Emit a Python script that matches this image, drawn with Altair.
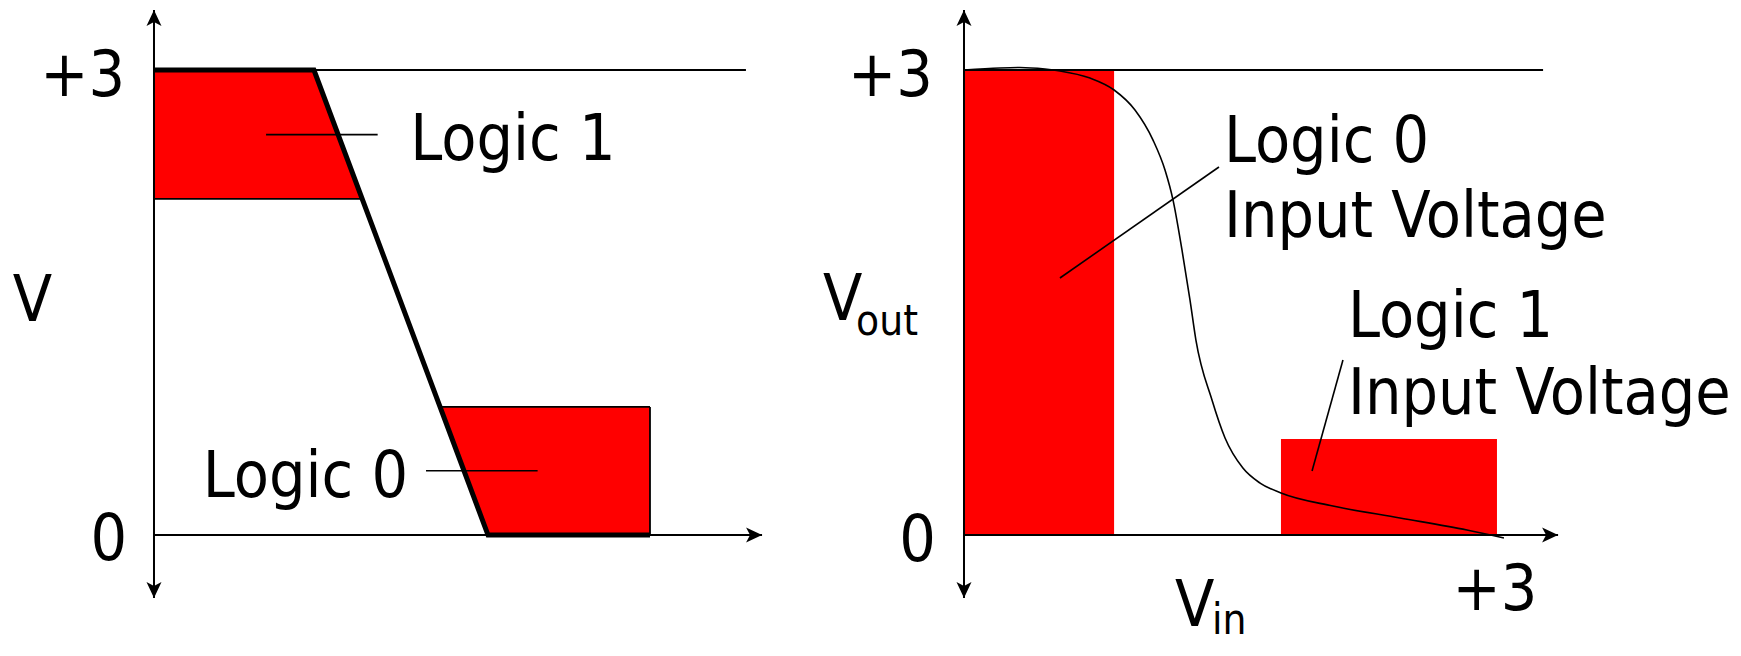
import altair as alt
import pandas as pd

FONT = "DejaVu Sans Condensed, Lato, DejaVu Sans"
RED = "#ff0000"

# ---------------- Left panel: voltage (V) versus time ----------------
WAVE_T = [0.0, 1.032, 2.155, 3.20]
WAVE_V = [3.0, 3.0, 0.0, 0.0]

HI_T = [0.0, 1.032, 1.344]
HI_TOP = [3.0, 3.0, 2.168]
HI_BOT = [2.168, 2.168, 2.168]

LO_T = [1.846, 2.155, 3.20]
LO_TOP = [0.826, 0.826, 0.826]
LO_BOT = [0.826, 0.0, 0.0]

# ---------------- Right panel: Vout versus Vin ----------------
VIN = [0.0, 0.201, 0.313, 0.453, 0.537, 0.705, 0.840, 0.957, 1.058, 1.125,
       1.170, 1.220, 1.265, 1.298, 1.388, 1.461, 1.561, 1.657, 1.774, 2.065,
       2.440, 2.815, 3.022]
VOUT = [3.000, 3.013, 3.016, 3.006, 2.994, 2.948, 2.871, 2.742, 2.548, 2.355,
        2.161, 1.839, 1.516, 1.258, 0.871, 0.626, 0.432, 0.335, 0.271, 0.187,
        0.110, 0.032, -0.019]

BAND_X = [0.0, 1.774]
BAND_X2 = [0.840, 2.983]
BAND_Y = [0.0, 0.0]
BAND_Y2 = [3.0, 0.619]

ARROW = "M0,0L0.75,1.6L0,1.2L-0.75,1.6Z"

H = 636
YDOM = [-0.7032, 3.4]


def seg_df(rows):
    return pd.DataFrame(rows, columns=["x", "y", "x2", "y2"])


def rules(rows, xs, ys, width):
    return alt.Chart(seg_df(rows)).mark_rule(color="black", strokeWidth=width).encode(
        x=alt.X("x:Q", scale=xs, axis=None), y=alt.Y("y:Q", scale=ys, axis=None),
        x2="x2:Q", y2="y2:Q")


def arrows(rows, xs, ys):
    df = pd.DataFrame(rows, columns=["x", "y", "ang"])
    return alt.Chart(df).mark_point(shape=ARROW, filled=True, size=400, color="black",
                                    opacity=1).encode(
        x=alt.X("x:Q", scale=xs, axis=None), y=alt.Y("y:Q", scale=ys, axis=None),
        angle=alt.Angle("ang:Q", scale=None))


def texts(rows, xs, ys, align, size):
    df = pd.DataFrame(rows, columns=["x", "y", "label"])
    return alt.Chart(df).mark_text(align=align, baseline="alphabetic", fontSize=size,
                                   font=FONT, color="black").encode(
        x=alt.X("x:Q", scale=xs, axis=None), y=alt.Y("y:Q", scale=ys, axis=None),
        text="label:N")


# ----- left panel -----
xsL = alt.Scale(domain=[-0.9419, 4.2194], nice=False, zero=False)
ysL = alt.Scale(domain=YDOM, nice=False, zero=False)

hi = alt.Chart(pd.DataFrame({"t": HI_T, "top": HI_TOP, "bot": HI_BOT})).mark_area(
    color=RED, opacity=1).encode(
    x=alt.X("t:Q", scale=xsL, axis=None), y=alt.Y("top:Q", scale=ysL, axis=None), y2="bot:Q")
lo = alt.Chart(pd.DataFrame({"t": LO_T, "top": LO_TOP, "bot": LO_BOT})).mark_area(
    color=RED, opacity=1).encode(
    x=alt.X("t:Q", scale=xsL, axis=None), y=alt.Y("top:Q", scale=ysL, axis=None), y2="bot:Q")
wave = alt.Chart(pd.DataFrame({"t": WAVE_T, "v": WAVE_V})).mark_line(
    color="black", strokeWidth=5, strokeJoin="miter").encode(
    x=alt.X("t:Q", scale=xsL, axis=None), y=alt.Y("v:Q", scale=ysL, axis=None), order="t:Q")

left = alt.layer(
    hi, lo,
    rules([(0, -0.406, 0, 3.387), (0, 0, 3.923, 0)], xsL, ysL, 2),
    rules([(0, 3, 3.819, 3), (0, 2.168, 1.344, 2.168), (1.846, 0.826, 3.2, 0.826),
           (3.2, 0, 3.2, 0.826)], xsL, ysL, 1.8),
    rules([(0.723, 2.583, 1.443, 2.583), (1.755, 0.415, 2.475, 0.415)], xsL, ysL, 1.6),
    wave,
    arrows([(0, 3.387, 0), (0, -0.406, 180), (3.923, 0, 90)], xsL, ysL),
    texts([(-0.187, 2.832, "+3"), (-0.174, -0.161, "0")], xsL, ysL, "right", 64),
    texts([(-0.784, 1.381, "V"), (2.316, 2.419, "Logic 1"), (0.977, 0.245, "Logic 0")],
          xsL, ysL, "center", 64),
).properties(width=800, height=H)

# ----- right panel -----
xsR = alt.Scale(domain=[-0.8731, 4.2872], nice=False, zero=False)
ysR = alt.Scale(domain=YDOM, nice=False, zero=False)

bands = alt.Chart(pd.DataFrame({"x": BAND_X, "x2": BAND_X2, "y": BAND_Y, "y2": BAND_Y2})).mark_rect(
    color=RED, opacity=1).encode(
    x=alt.X("x:Q", scale=xsR, axis=None), x2="x2:Q",
    y=alt.Y("y:Q", scale=ysR, axis=None), y2="y2:Q")
curve = alt.Chart(pd.DataFrame({"vin": VIN, "vout": VOUT})).mark_line(
    color="black", strokeWidth=1.6, interpolate="monotone").encode(
    x=alt.X("vin:Q", scale=xsR, axis=None), y=alt.Y("vout:Q", scale=ysR, axis=None))

right = alt.layer(
    bands,
    rules([(0, -0.406, 0, 3.387), (0, 0, 3.325, 0)], xsR, ysR, 2),
    rules([(0, 3, 3.241, 3)], xsR, ysR, 1.8),
    rules([(0.537, 1.658, 1.427, 2.374), (2.121, 1.129, 1.948, 0.413)], xsR, ysR, 1.6),
    curve,
    arrows([(0, 3.387, 0), (0, -0.406, 180), (3.325, 0, 90)], xsR, ysR),
    texts([(-0.1735, 2.832, "+3"), (-0.157, -0.168, "0")], xsR, ysR, "right", 64),
    texts([(2.972, -0.484, "+3")], xsR, ysR, "center", 64),
    texts([(-0.789, 1.387, "V"), (1.181, -0.587, "V"),
           (1.455, 2.406, "Logic 0"), (1.455, 1.923, "Input Voltage"),
           (2.149, 1.277, "Logic 1"), (2.149, 0.781, "Input Voltage")],
          xsR, ysR, "left", 64),
    texts([(-0.604, 1.290, "out"), (1.388, -0.639, "in")], xsR, ysR, "left", 42),
).properties(width=922, height=H)

chart = alt.hconcat(left, right, spacing=0, bounds="flush").properties(
    padding=0).configure_view(stroke=None)

chart.save("out.html", embed_options={"renderer": "svg", "actions": False})
